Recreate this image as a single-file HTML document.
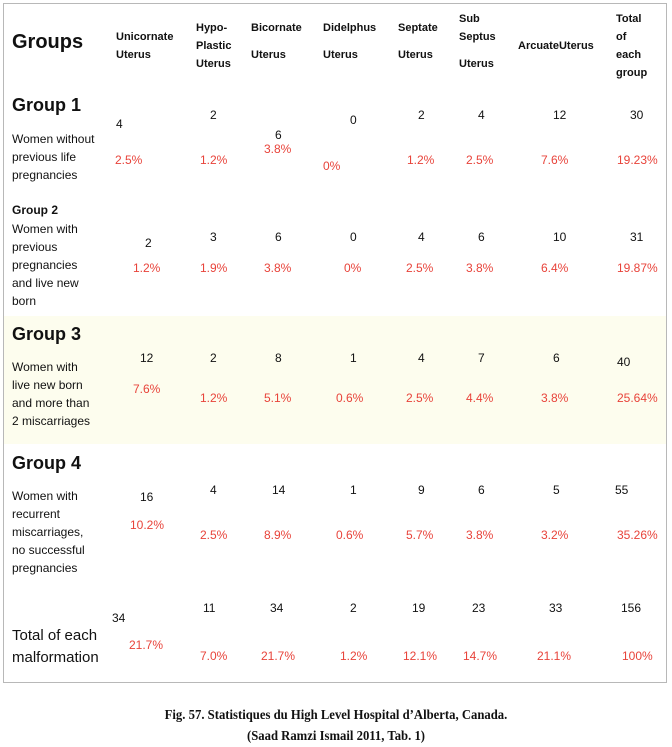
<!DOCTYPE html>
<html><head><meta charset="utf-8"><style>
body{margin:0;width:672px;height:747px;background:#fff;position:relative;overflow:hidden;font-family:"Liberation Sans",sans-serif;color:#111}
#box{position:absolute;left:3px;top:3px;width:664px;height:680px;border:1px solid #b8b8b8;box-sizing:border-box}
#band{position:absolute;left:4px;top:316px;width:662px;height:128px;background:#fdfdee}
.t{position:absolute;white-space:nowrap;line-height:16px}
.h{font-size:11px;font-weight:bold}
.n{font-size:12px}
.p{font-size:12px;color:#e8433a}
.g{font-size:12px}
.cap{position:absolute;left:0;width:672px;text-align:center;font-family:"Liberation Serif",serif;font-weight:bold;font-size:13.5px;transform:scaleX(0.94)}
</style></head><body>
<div id="box"></div>
<div id="band"></div>

<div>
<span class="t" style="left:12px;top:30px;font-size:20px;font-weight:bold;line-height:24px">Groups</span>
<span class="t h" style="left:116px;top:29px">Unicornate</span>
<span class="t h" style="left:116px;top:47px">Uterus</span>
<span class="t h" style="left:196px;top:20px">Hypo-</span>
<span class="t h" style="left:196px;top:38px">Plastic</span>
<span class="t h" style="left:196px;top:56px">Uterus</span>
<span class="t h" style="left:251px;top:20px">Bicornate</span>
<span class="t h" style="left:251px;top:47px">Uterus</span>
<span class="t h" style="left:323px;top:20px">Didelphus</span>
<span class="t h" style="left:323px;top:47px">Uterus</span>
<span class="t h" style="left:398px;top:20px">Septate</span>
<span class="t h" style="left:398px;top:47px">Uterus</span>
<span class="t h" style="left:459px;top:11px">Sub</span>
<span class="t h" style="left:459px;top:29px">Septus</span>
<span class="t h" style="left:459px;top:56px">Uterus</span>
<span class="t h" style="left:518px;top:38px">ArcuateUterus</span>
<span class="t h" style="left:616px;top:11px">Total</span>
<span class="t h" style="left:616px;top:29px">of</span>
<span class="t h" style="left:616px;top:47px">each</span>
<span class="t h" style="left:616px;top:65px">group</span>
</div>

<div>
<span class="t" style="left:12px;top:94px;font-size:18px;font-weight:bold;line-height:22px">Group 1</span>
<span class="t g" style="left:12px;top:130px;line-height:18px">Women without<br>previous life<br>pregnancies</span>
<span class="t n" style="left:116px;top:116px">4</span>
<span class="t n" style="left:210px;top:107px">2</span>
<span class="t n" style="left:275px;top:127px">6</span>
<span class="t n" style="left:350px;top:112px">0</span>
<span class="t n" style="left:418px;top:107px">2</span>
<span class="t n" style="left:478px;top:107px">4</span>
<span class="t n" style="left:553px;top:107px">12</span>
<span class="t n" style="left:630px;top:107px">30</span>
<span class="t p" style="left:115px;top:152px">2.5%</span>
<span class="t p" style="left:200px;top:152px">1.2%</span>
<span class="t p" style="left:264px;top:141px">3.8%</span>
<span class="t p" style="left:323px;top:158px">0%</span>
<span class="t p" style="left:407px;top:152px">1.2%</span>
<span class="t p" style="left:466px;top:152px">2.5%</span>
<span class="t p" style="left:541px;top:152px">7.6%</span>
<span class="t p" style="left:617px;top:152px">19.23%</span>
</div>

<div>
<span class="t g" style="left:12px;top:202px;font-weight:bold">Group 2</span>
<span class="t g" style="left:12px;top:220px;line-height:18px">Women with<br>previous<br>pregnancies<br>and live new<br>born</span>
<span class="t n" style="left:145px;top:235px">2</span>
<span class="t n" style="left:210px;top:229px">3</span>
<span class="t n" style="left:275px;top:229px">6</span>
<span class="t n" style="left:350px;top:229px">0</span>
<span class="t n" style="left:418px;top:229px">4</span>
<span class="t n" style="left:478px;top:229px">6</span>
<span class="t n" style="left:553px;top:229px">10</span>
<span class="t n" style="left:630px;top:229px">31</span>
<span class="t p" style="left:133px;top:260px">1.2%</span>
<span class="t p" style="left:200px;top:260px">1.9%</span>
<span class="t p" style="left:264px;top:260px">3.8%</span>
<span class="t p" style="left:344px;top:260px">0%</span>
<span class="t p" style="left:406px;top:260px">2.5%</span>
<span class="t p" style="left:466px;top:260px">3.8%</span>
<span class="t p" style="left:541px;top:260px">6.4%</span>
<span class="t p" style="left:617px;top:260px">19.87%</span>
</div>

<div>
<span class="t" style="left:12px;top:323px;font-size:18px;font-weight:bold;line-height:22px">Group 3</span>
<span class="t g" style="left:12px;top:358px;line-height:18px">Women with<br>live new born<br>and more than<br>2 miscarriages</span>
<span class="t n" style="left:140px;top:350px">12</span>
<span class="t n" style="left:210px;top:350px">2</span>
<span class="t n" style="left:275px;top:350px">8</span>
<span class="t n" style="left:350px;top:350px">1</span>
<span class="t n" style="left:418px;top:350px">4</span>
<span class="t n" style="left:478px;top:350px">7</span>
<span class="t n" style="left:553px;top:350px">6</span>
<span class="t n" style="left:617px;top:354px">40</span>
<span class="t p" style="left:133px;top:381px">7.6%</span>
<span class="t p" style="left:200px;top:390px">1.2%</span>
<span class="t p" style="left:264px;top:390px">5.1%</span>
<span class="t p" style="left:336px;top:390px">0.6%</span>
<span class="t p" style="left:406px;top:390px">2.5%</span>
<span class="t p" style="left:466px;top:390px">4.4%</span>
<span class="t p" style="left:541px;top:390px">3.8%</span>
<span class="t p" style="left:617px;top:390px">25.64%</span>
</div>

<div>
<span class="t" style="left:12px;top:452px;font-size:18px;font-weight:bold;line-height:22px">Group 4</span>
<span class="t g" style="left:12px;top:487px;line-height:18px">Women with<br>recurrent<br>miscarriages,<br>no successful<br>pregnancies</span>
<span class="t n" style="left:140px;top:489px">16</span>
<span class="t n" style="left:210px;top:482px">4</span>
<span class="t n" style="left:272px;top:482px">14</span>
<span class="t n" style="left:350px;top:482px">1</span>
<span class="t n" style="left:418px;top:482px">9</span>
<span class="t n" style="left:478px;top:482px">6</span>
<span class="t n" style="left:553px;top:482px">5</span>
<span class="t n" style="left:615px;top:482px">55</span>
<span class="t p" style="left:130px;top:517px">10.2%</span>
<span class="t p" style="left:200px;top:527px">2.5%</span>
<span class="t p" style="left:264px;top:527px">8.9%</span>
<span class="t p" style="left:336px;top:527px">0.6%</span>
<span class="t p" style="left:406px;top:527px">5.7%</span>
<span class="t p" style="left:466px;top:527px">3.8%</span>
<span class="t p" style="left:541px;top:527px">3.2%</span>
<span class="t p" style="left:617px;top:527px">35.26%</span>
</div>

<div>
<span class="t" style="left:12px;top:625px;font-size:15px;line-height:22px">Total of each<br>malformation</span>
<span class="t n" style="left:112px;top:610px">34</span>
<span class="t n" style="left:203px;top:600px">11</span>
<span class="t n" style="left:270px;top:600px">34</span>
<span class="t n" style="left:350px;top:600px">2</span>
<span class="t n" style="left:412px;top:600px">19</span>
<span class="t n" style="left:472px;top:600px">23</span>
<span class="t n" style="left:549px;top:600px">33</span>
<span class="t n" style="left:621px;top:600px">156</span>
<span class="t p" style="left:129px;top:637px">21.7%</span>
<span class="t p" style="left:200px;top:648px">7.0%</span>
<span class="t p" style="left:261px;top:648px">21.7%</span>
<span class="t p" style="left:340px;top:648px">1.2%</span>
<span class="t p" style="left:403px;top:648px">12.1%</span>
<span class="t p" style="left:463px;top:648px">14.7%</span>
<span class="t p" style="left:537px;top:648px">21.1%</span>
<span class="t p" style="left:622px;top:648px">100%</span>
</div>

<div class="cap" style="top:707px">Fig. 57. Statistiques du High Level Hospital d’Alberta, Canada.</div>
<div class="cap" style="top:728px">(Saad Ramzi Ismail 2011, Tab. 1)</div>
</body></html>
